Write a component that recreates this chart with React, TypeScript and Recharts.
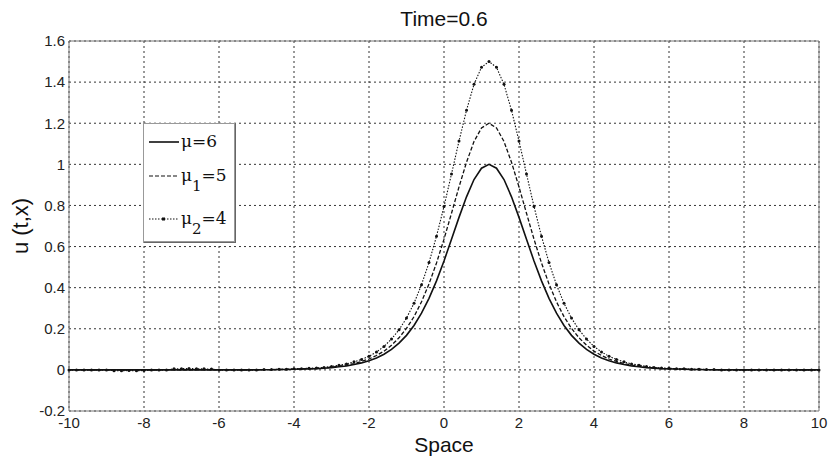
import { LineChart, Line, XAxis, YAxis, CartesianGrid, ReferenceLine } from 'recharts';

// Space grid (step 0.2)
const space = [
  -10, -9.8, -9.6, -9.4, -9.2, -9, -8.8, -8.6, -8.4, -8.2, -8, -7.8, -7.6, -7.4, -7.2, -7, -6.8, -6.6, -6.4, -6.2,
  -6, -5.8, -5.6, -5.4, -5.2, -5, -4.8, -4.6, -4.4, -4.2, -4, -3.8, -3.6, -3.4, -3.2, -3, -2.8, -2.6, -2.4, -2.2,
  -2, -1.8, -1.6, -1.4, -1.2, -1, -0.8, -0.6, -0.4, -0.2, 0, 0.2, 0.4, 0.6, 0.8, 1, 1.2, 1.4, 1.6, 1.8,
  2, 2.2, 2.4, 2.6, 2.8, 3, 3.2, 3.4, 3.6, 3.8, 4, 4.2, 4.4, 4.6, 4.8, 5, 5.2, 5.4, 5.6, 5.8,
  6, 6.2, 6.4, 6.6, 6.8, 7, 7.2, 7.4, 7.6, 7.8, 8, 8.2, 8.4, 8.6, 8.8, 9, 9.2, 9.4, 9.6, 9.8, 10,
];

// u(t,x) for mu = 6
const mu6 = [
  0, 0, 0, 0, 0, 0, 0, 0, 0, 0, 0, 0, 0, 0, 0, 0, 0, 0, 0, 0, 0, 0, 0, 0, 0, 0,
  0.001, 0.001, 0.002, 0.002, 0.003, 0.004, 0.005, 0.006, 0.008, 0.011, 0.015, 0.019, 0.026, 0.034, 0.044,
  0.058, 0.076, 0.100, 0.130, 0.168, 0.216, 0.276, 0.348, 0.433, 0.530, 0.635, 0.742, 0.842, 0.926, 0.981, 1.000,
  0.981, 0.926, 0.842, 0.742, 0.635, 0.530, 0.433, 0.348, 0.276, 0.216, 0.168, 0.130, 0.100, 0.076, 0.058,
  0.044, 0.034, 0.026, 0.019, 0.015, 0.011, 0.008, 0.006, 0.005, 0.004, 0.003, 0.002, 0.002, 0.001, 0.001,
  0, 0, 0, 0, 0, 0, 0, 0, 0, 0, 0, 0, 0, 0,
];

// u(t,x) for mu1 = 5
const mu5 = [
  0, 0, 0, 0, 0, 0, 0, 0, 0, 0, 0, 0, 0, 0, 0, 0, 0, 0, 0, 0, 0, 0, 0, 0, 0, 0,
  0.001, 0.001, 0.002, 0.002, 0.004, 0.005, 0.006, 0.007, 0.010, 0.013, 0.018, 0.023, 0.031, 0.041, 0.053,
  0.070, 0.091, 0.120, 0.156, 0.202, 0.259, 0.331, 0.418, 0.520, 0.636, 0.762, 0.890, 1.010, 1.111, 1.177, 1.200,
  1.177, 1.111, 1.010, 0.890, 0.762, 0.636, 0.520, 0.418, 0.331, 0.259, 0.202, 0.156, 0.120, 0.091, 0.070,
  0.053, 0.041, 0.031, 0.023, 0.018, 0.013, 0.010, 0.007, 0.006, 0.005, 0.004, 0.002, 0.002, 0.001, 0.001,
  0, 0, 0, 0, 0, 0, 0, 0, 0, 0, 0, 0, 0, 0,
];

// u(t,x) for mu2 = 4
const mu4 = [
  0, 0, 0, 0, 0, 0, -0.004, -0.004, -0.003, -0.004, -0.003, 0, 0, 0, 0.005, 0.006, 0.007, 0.006, 0.005, 0.004, 0, 0, 0, 0, 0, 0,
  0.002, 0.002, 0.003, 0.003, 0.005, 0.006, 0.008, 0.009, 0.012, 0.017, 0.023, 0.029, 0.039, 0.051, 0.066,
  0.087, 0.114, 0.150, 0.195, 0.252, 0.324, 0.414, 0.522, 0.650, 0.795, 0.953, 1.113, 1.263, 1.389, 1.472, 1.500,
  1.472, 1.389, 1.263, 1.113, 0.953, 0.795, 0.650, 0.522, 0.414, 0.324, 0.252, 0.195, 0.150, 0.114, 0.087,
  0.066, 0.051, 0.039, 0.029, 0.023, 0.017, 0.012, 0.009, 0.008, 0.006, 0.005, 0.003, 0.003, 0.002, 0.002,
  0, 0, 0, 0, 0, 0, 0, 0, 0, 0, 0, 0, 0, 0,
];

const xTicks = [-10, -8, -6, -4, -2, 0, 2, 4, 6, 8, 10];
const yTicks = [-0.2, 0, 0.2, 0.4, 0.6, 0.8, 1, 1.2, 1.4, 1.6];

const chartData = space.map((x, i) => ({ x, mu6: mu6[i], mu5: mu5[i], mu4: mu4[i] }));

const tickStyle = { fill: '#222', fontSize: 15, fontFamily: 'Liberation Sans, Arial, sans-serif' };
const labelFont = 'Liberation Sans, Arial, sans-serif';

function LegendBox() {
  const rows = [
    { sub: '', val: '6', dash: undefined, top: 17, marker: false },
    { sub: '1', val: '5', dash: '4 2', top: 51, marker: false },
    { sub: '2', val: '4', dash: '1.5 1.5', top: 94, marker: true },
  ];
  return (
    <div
      style={{
        position: 'absolute',
        left: 143,
        top: 123,
        width: 90,
        height: 117,
        background: '#fff',
        border: '1px solid #999',
        boxShadow: '1px 1px 0 #666',
        fontFamily: 'DejaVu Serif, serif',
        fontSize: 17,
        color: '#111',
      }}
    >
      {rows.map((r) => (
        <div key={r.val} style={{ position: 'absolute', left: 0, top: r.top - 12, height: 24, width: 90 }}>
          <svg width={32} height={24} style={{ position: 'absolute', left: 4, top: 0 }}>
            <line x1={1} y1={13} x2={31} y2={13} stroke="#111" strokeWidth={r.dash ? 1.2 : 1.6} strokeDasharray={r.dash} />
            {r.marker && <rect x={14} y={11.5} width={3} height={3} fill="#111" />}
          </svg>
          <span style={{ position: 'absolute', left: 37, top: 0, lineHeight: '24px', whiteSpace: 'nowrap' }}>
            μ
            {r.sub && <span style={{ fontSize: 15, verticalAlign: -10 }}>{r.sub}</span>}
            ={r.val}
          </span>
        </div>
      ))}
    </div>
  );
}

export default function App() {
  return (
    <div style={{ position: 'absolute', left: 0, top: 0, width: 832, height: 461, background: '#fff' }}>
      <div
        style={{
          position: 'absolute',
          left: 69,
          width: 750,
          top: 8,
          textAlign: 'center',
          fontFamily: labelFont,
          fontSize: 21,
          lineHeight: 1,
          color: '#111',
        }}
      >
        Time=0.6
      </div>
      <LineChart width={832} height={461} data={chartData} margin={{ top: 41, right: 13, left: 0, bottom: 20 }}>
        <CartesianGrid stroke="#333" strokeDasharray="2 3" strokeWidth={1} />
        <XAxis
          dataKey="x"
          type="number"
          domain={[-10, 10]}
          ticks={xTicks}
          height={30}
          tickLine={false}
          tickSize={0}
          tickMargin={6}
          stroke="#777"
          tick={tickStyle}
          interval={0}
          label={{ value: 'Space', position: 'bottom', offset: -4, style: { fill: '#111', fontSize: 21, fontFamily: labelFont } }}
        />
        <YAxis
          type="number"
          domain={[-0.2, 1.6]}
          ticks={yTicks}
          width={69}
          tickLine={false}
          tickSize={0}
          tickMargin={4}
          stroke="#777"
          tick={tickStyle}
          interval={0}
          allowDataOverflow
          label={{
            value: 'u (t,x)',
            angle: -90,
            position: 'insideLeft',
            offset: 20,
            style: { textAnchor: 'middle', fill: '#111', fontSize: 22, fontFamily: labelFont },
          }}
        />
        <ReferenceLine y={1.6} stroke="#777" />
        <ReferenceLine x={10} stroke="#777" />
        <Line type="linear" dataKey="mu6" stroke="#111" strokeWidth={1.6} dot={false} isAnimationActive={false} />
        <Line
          type="linear"
          dataKey="mu5"
          stroke="#111"
          strokeWidth={1.3}
          strokeDasharray="4 2"
          dot={false}
          isAnimationActive={false}
        />
        <Line
          type="linear"
          dataKey="mu4"
          stroke="#111"
          strokeWidth={1.1}
          strokeDasharray="1.5 1.5"
          dot={{ r: 1.5, fill: '#111', stroke: 'none' }}
          isAnimationActive={false}
        />
      </LineChart>
      <LegendBox />
    </div>
  );
}
